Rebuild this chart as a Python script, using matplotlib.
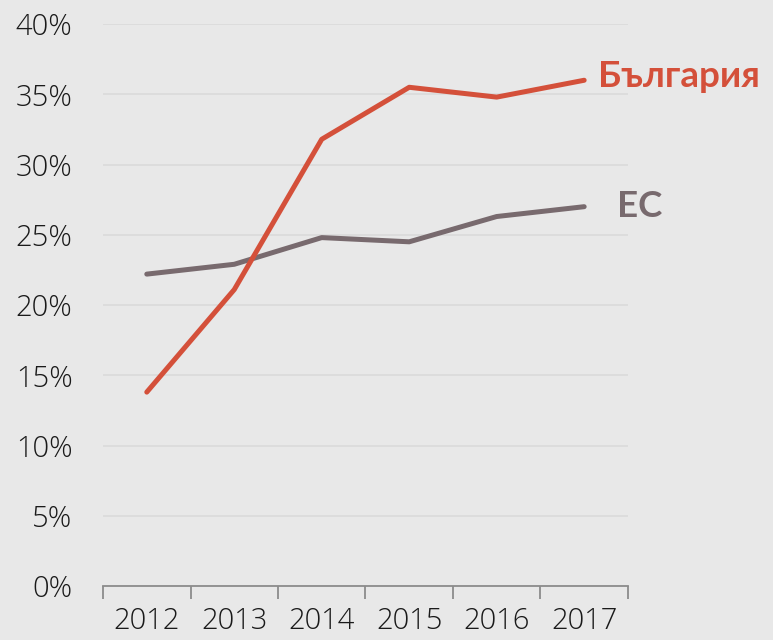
import numpy as np
import matplotlib
matplotlib.use('Agg')
import matplotlib.pyplot as plt

years = ['2012', '2013', '2014', '2015', '2016', '2017']
bulgaria = [13.8, 21.1, 31.8, 35.5, 34.8, 36.0]
eu = [22.2, 22.9, 24.8, 24.5, 26.3, 27.0]
y_ticks = [0, 5, 10, 15, 20, 25, 30, 35, 40]

bg = '#e8e8e8'
red = '#d4503a'
grey = '#786a6e'

plt.rcParams['font.family'] = ['Open Sans', 'DejaVu Sans']

fig = plt.figure(figsize=(7.73, 6.40), dpi=100, facecolor=bg)
ax = fig.add_axes([0.1333, 0.0844, 0.679, 0.878])
ax.set_facecolor(bg)

x = np.arange(len(years))
ax.plot(x, eu, color=grey, lw=3.6, solid_capstyle='round', solid_joinstyle='round')
ax.plot(x, bulgaria, color=red, lw=3.6, solid_capstyle='round', solid_joinstyle='round')

# end labels
ax.text(x[-1] + 0.16, bulgaria[-1] + 0.3, 'България', color=red, fontsize=26.5,
        fontweight='bold', va='center', ha='left', family=['Lato', 'DejaVu Sans'],
        clip_on=False)
ax.text(x[-1] + 0.37, eu[-1] + 0.0, 'ЕС', color=grey, fontsize=26.5,
        fontweight='bold', va='center', ha='left', family=['Lato', 'DejaVu Sans'],
        clip_on=False)

ax.set_xlim(-0.5, len(years) - 0.5)
ax.set_ylim(0, 40)
ax.set_yticks(y_ticks)
ax.set_yticklabels([f'{v}%' for v in y_ticks])
ax.set_xticks(x)
ax.set_xticklabels(years)
ax.set_xticks(np.arange(len(years) + 1) - 0.5, minor=True)

for lab in ax.get_xticklabels() + ax.get_yticklabels():
    lab.set_fontweight('light')

ax.tick_params(axis='y', length=0, pad=22, labelsize=21, labelcolor='#1a1a1a')
ax.tick_params(axis='x', which='major', length=0, pad=15, labelsize=21, labelcolor='#1a1a1a')
ax.tick_params(axis='x', which='minor', length=9, width=1.3, color='#8c8c8c', direction='out')

ax.grid(axis='y', color='#dadada', lw=1.2)
ax.set_axisbelow(True)
for s in ['top', 'right', 'left']:
    ax.spines[s].set_visible(False)
ax.spines['bottom'].set_color('#8c8c8c')
ax.spines['bottom'].set_linewidth(1.3)

fig.savefig('out.png', dpi=100, facecolor=bg)
